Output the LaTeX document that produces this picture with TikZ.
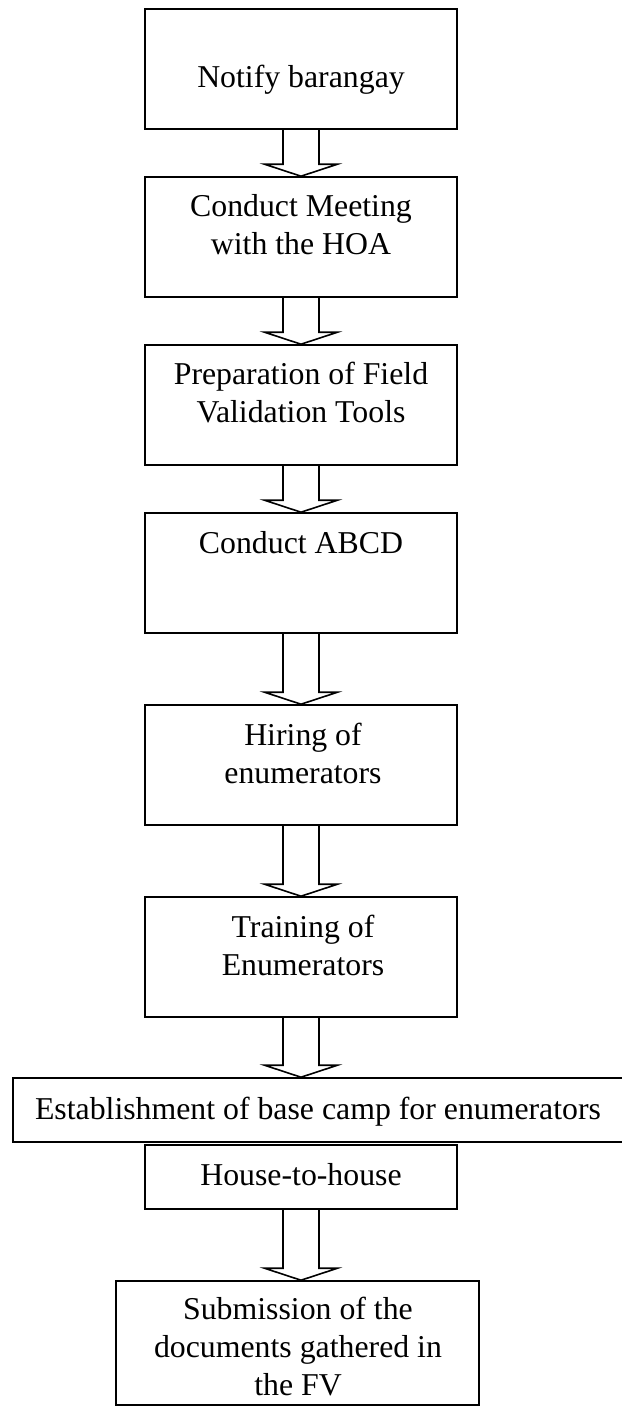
\documentclass[tikz,border=0pt]{standalone}
\usepackage{fontspec}
\setmainfont{Liberation Serif}
\usetikzlibrary{calc}
% one drawing unit = one pixel of the layout grid
\def\px{0.3774pt}
\tikzset{
  box/.style={draw=black, line width=0.6pt, inner sep=0pt},
  % labels are placed by the baseline of their last line
  lbl/.style={font=\fontsize{12}{14.2}\selectfont, align=center, anchor=base, inner sep=0pt},
  harrow/.style={draw=black, line width=0.6pt, line join=miter}
}
% \mkbox{name}{left}{top}{right}{bottom}
\newcommand\mkbox[5]{%
  \node[box, minimum width={(#4-#2)*\px}, minimum height={(#5-#3)*\px}]
    (#1) at ({(#2+#4)/2},{(#3+#5)/2}) {};}
% hollow block arrow from the bottom of #1 to the top of #2
\newcommand\flow[2]{%
  \draw[harrow] ($(#1.south)+(-18,0)$)
    -- ($(#1.south |- #2.north)+(-18,-12)$)
    -- ($(#1.south |- #2.north)+(-36.5,-12)$)
    -- (#1.south |- #2.north)
    -- ($(#1.south |- #2.north)+(36.5,-12)$)
    -- ($(#1.south |- #2.north)+(18,-12)$)
    -- ($(#1.south)+(18,0)$);}
\begin{document}
\begin{tikzpicture}[x=\px, y=-\px]
  \useasboundingbox (0,0) rectangle (622,1410);
  \fill[white] (0,0) rectangle (622,1410);
  \clip (0,0) rectangle (622,1410);

  % process boxes
  \mkbox{b1}{145}{9}{457}{129}
  \mkbox{b2}{145}{177}{457}{297}
  \mkbox{b3}{145}{345}{457}{465}
  \mkbox{b4}{145}{513}{457}{633}
  \mkbox{b5}{145}{705}{457}{825}
  \mkbox{b6}{145}{897}{457}{1017}
  \mkbox{b7}{13}{1078}{624}{1142}
  \mkbox{b8}{145}{1145}{457}{1209}
  \mkbox{b9}{116}{1281}{479}{1405}

  % labels
  \node[lbl] (t1) at (301,87) {Notify barangay};
  \node[lbl] (t2) at (301,254) {Conduct Meeting\\with the HOA};
  \node[lbl] (t3) at (301,422) {Preparation of Field\\Validation Tools};
  \node[lbl] (t4) at (301,553) {Conduct ABCD};
  \node[lbl] (t5) at (303,783) {Hiring of\\enumerators};
  \node[lbl] (t6) at (303,975) {Training of\\Enumerators};
  \node[lbl] (t7) at (318,1119) {Establishment of base camp for enumerators};
  \node[lbl] (t8) at (301,1185) {House-to-house};
  \node[lbl] (t9) at (298,1395) {Submission of the\\documents gathered in\\the FV};

  % flow arrows
  \flow{b1}{b2}
  \flow{b2}{b3}
  \flow{b3}{b4}
  \flow{b4}{b5}
  \flow{b5}{b6}
  \flow{b6}{b7}
  \flow{b8}{b9}
\end{tikzpicture}
\end{document}
